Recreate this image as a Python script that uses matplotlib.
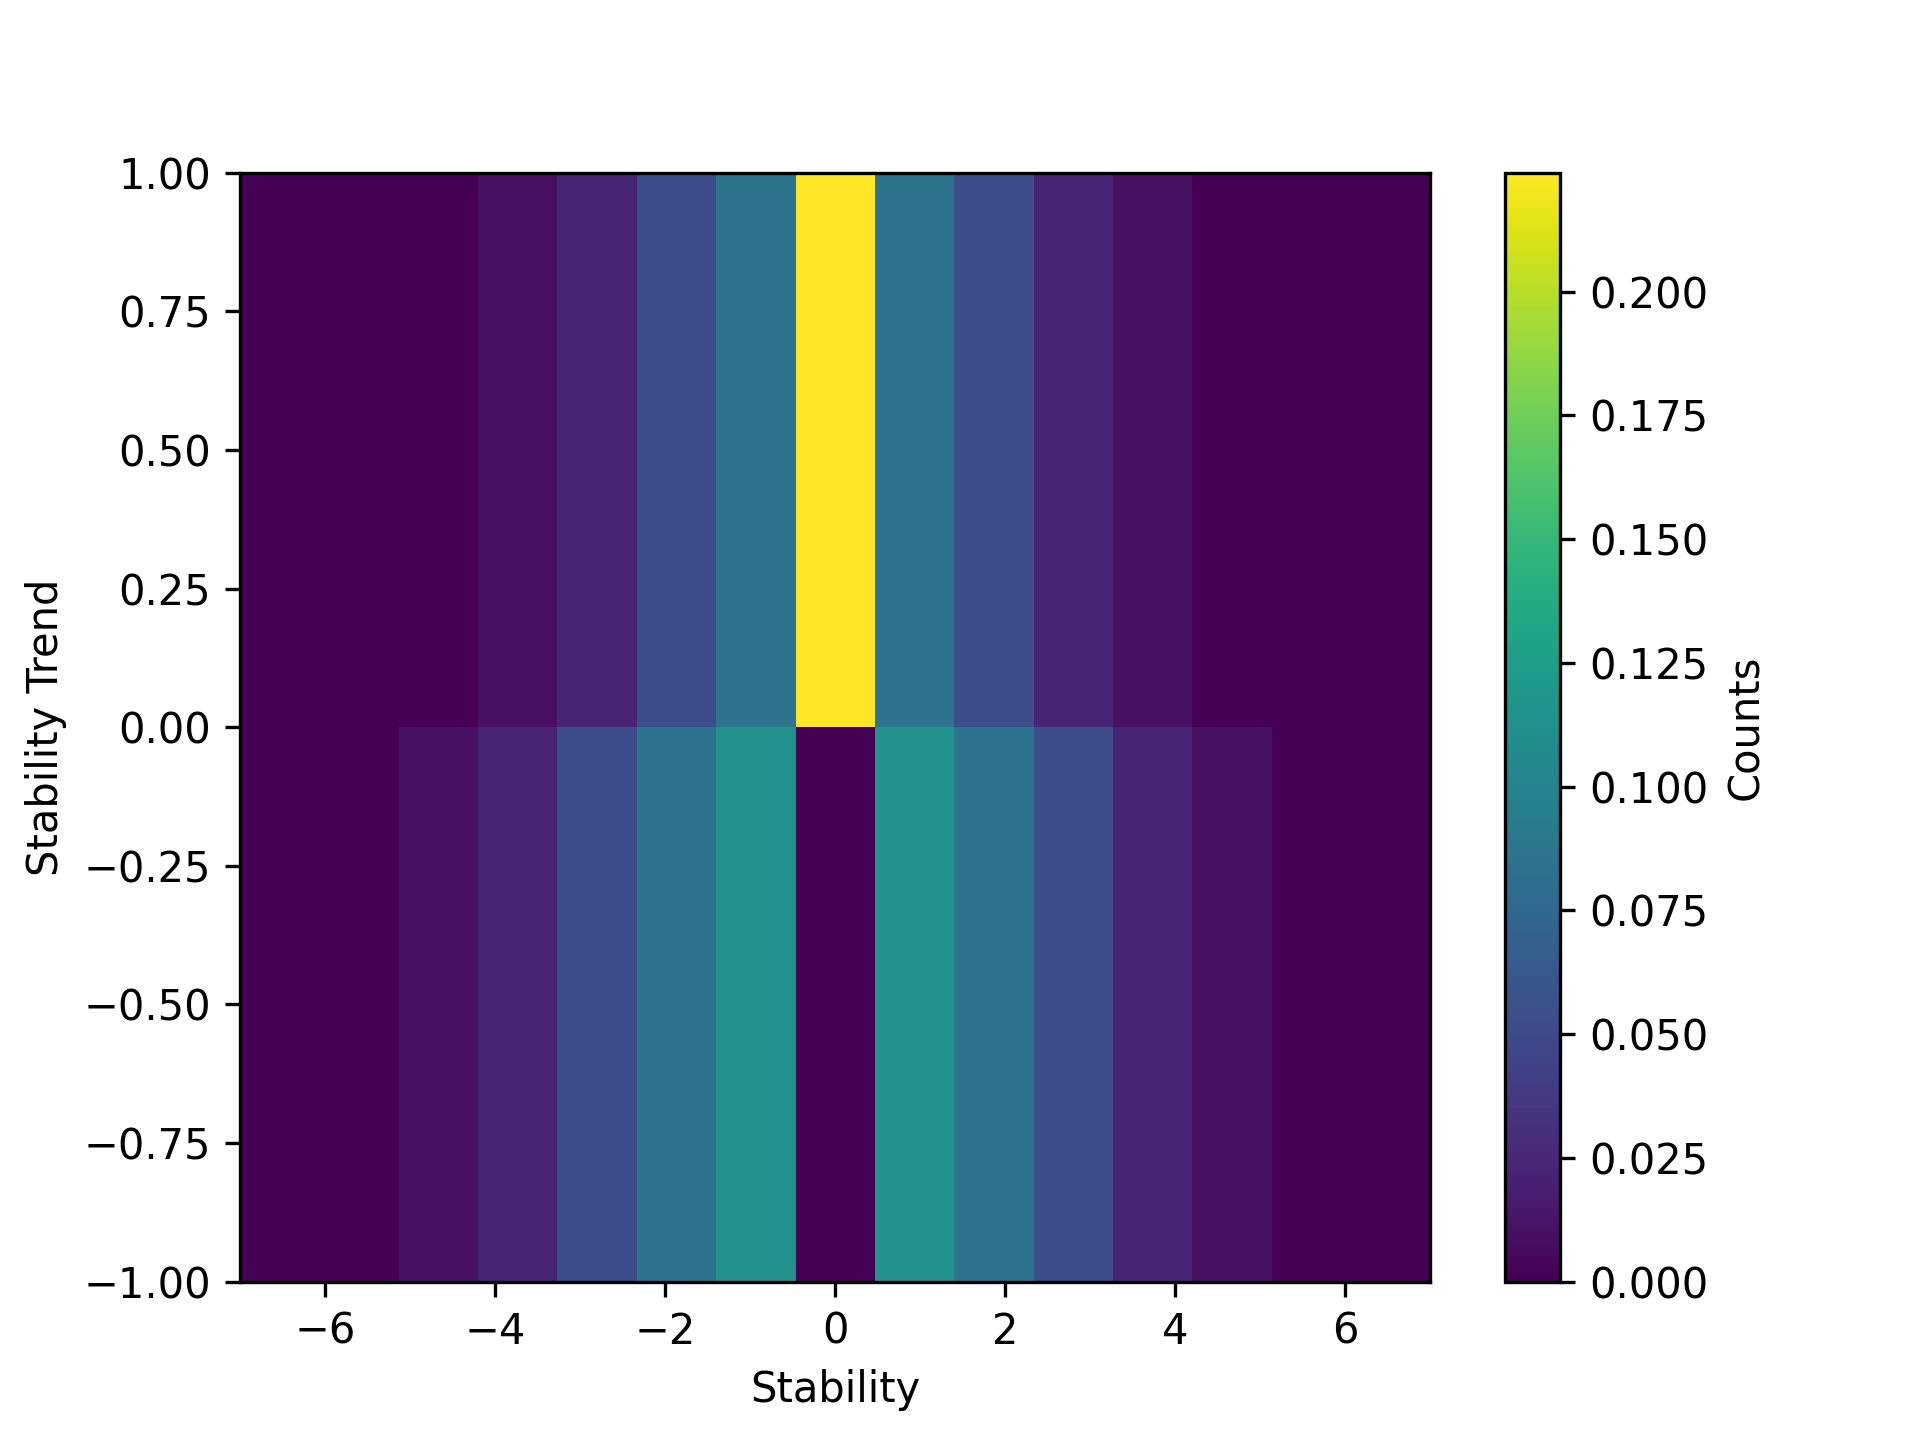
import numpy as np
import matplotlib
matplotlib.use("Agg")
import matplotlib.pyplot as plt

x_edges = np.linspace(-7, 7, 16)
y_edges = np.array([-1.0, 0.0, 1.0])

# counts per bin (rows: y from -1..0, 0..1)
bottom_row = [0, 0, 0.009, 0.022, 0.052, 0.085, 0.112, 0.0, 0.112, 0.085, 0.052, 0.022, 0.009, 0, 0]
top_row = [0, 0, 0, 0.009, 0.022, 0.052, 0.085, 0.224, 0.085, 0.052, 0.022, 0.009, 0, 0, 0]

Z = np.array([bottom_row, top_row])

fig, ax = plt.subplots(figsize=(6.4, 4.8), dpi=300)
mesh = ax.pcolormesh(x_edges, y_edges, Z, cmap="viridis")
cb = fig.colorbar(mesh, ax=ax)
cb.set_label("Counts")
ax.set_xlabel("Stability")
ax.set_ylabel("Stability Trend")
fig.savefig("out.png", dpi=300)
